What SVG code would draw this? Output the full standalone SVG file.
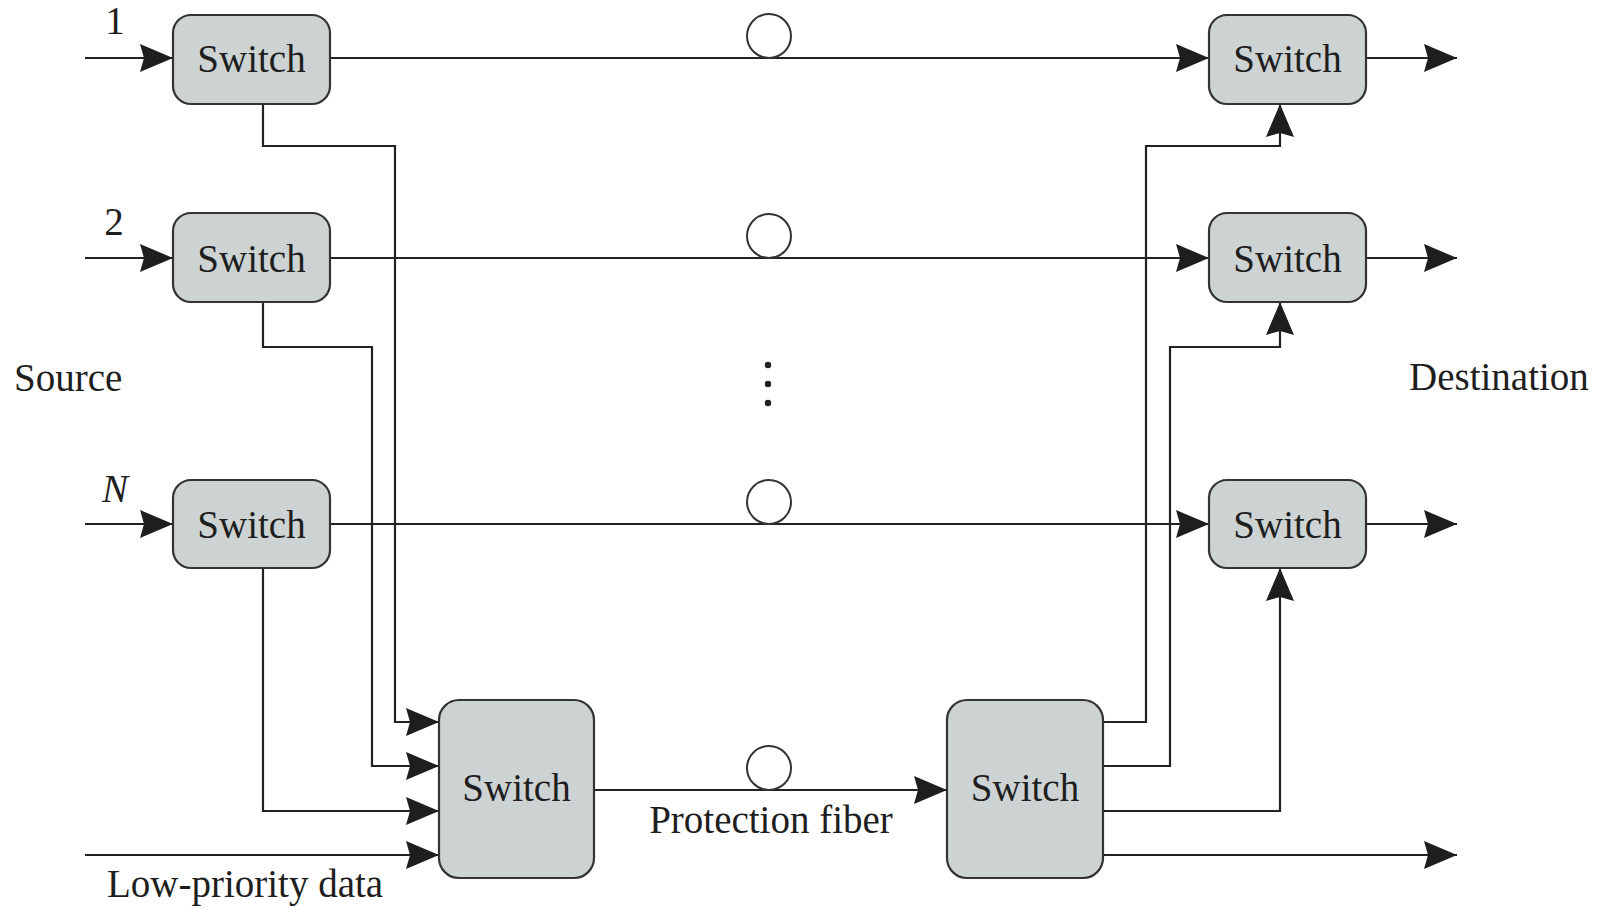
<svg xmlns="http://www.w3.org/2000/svg" width="1599" height="910" viewBox="0 0 1599 910">
<style>
  .box { fill: #cdd3d3; stroke: #333333; stroke-width: 2.2; }
  .t { font-family: "Liberation Serif", "Times New Roman", serif; font-size: 39px; fill: #1e1e1e; }
  .c { text-anchor: middle; }
  .ln { fill: none; stroke: #222222; stroke-width: 2.2; }
  .arr { marker-end: url(#ah); }
  .loop { fill: none; stroke: #333333; stroke-width: 2; }
</style>
<defs>
  <marker id="ah" markerUnits="userSpaceOnUse" markerWidth="40" markerHeight="32" viewBox="-35 -16 37 32" refX="0" refY="0" orient="auto">
    <path d="M0,0 L-33,-14 L-29,0 L-33,14 Z" fill="#1e1e1e"/>
  </marker>
</defs>
<rect width="1599" height="910" fill="#ffffff"/>

<g id="connectors">
  <path class="ln arr" d="M85,58 H173"/>
  <path class="ln arr" d="M85,258 H173"/>
  <path class="ln arr" d="M85,524 H173"/>
  <path class="ln arr" d="M330,58 H1209"/>
  <path class="ln arr" d="M330,258 H1209"/>
  <path class="ln arr" d="M330,524 H1209"/>
  <path class="ln arr" d="M1366,58 H1457"/>
  <path class="ln arr" d="M1366,258 H1457"/>
  <path class="ln arr" d="M1366,524 H1457"/>
  <path class="ln arr" d="M263,104 V146 H395 V722 H439"/>
  <path class="ln arr" d="M263,302 V347 H372 V766 H439"/>
  <path class="ln arr" d="M263,568 V811 H439"/>
  <path class="ln arr" d="M85,855 H439"/>
  <path class="ln arr" d="M594,790 H947"/>
  <path class="ln arr" d="M1103,722 H1146 V146 H1280 V104"/>
  <path class="ln arr" d="M1103,766 H1170 V347 H1280 V302"/>
  <path class="ln arr" d="M1103,811 H1280 V568"/>
  <path class="ln arr" d="M1103,855 H1457"/>
</g>

<g id="fibers">
  <circle class="loop" cx="769" cy="36" r="22"/>
  <circle class="loop" cx="769" cy="236" r="22"/>
  <circle class="loop" cx="769" cy="502" r="22"/>
  <circle class="loop" cx="769" cy="768" r="22"/>
  <circle cx="768" cy="365" r="3.2" fill="#1e1e1e"/>
  <circle cx="768" cy="384" r="3.2" fill="#1e1e1e"/>
  <circle cx="768" cy="403" r="3.2" fill="#1e1e1e"/>
</g>

<g id="src1">
  <rect class="box" x="173" y="15" width="157" height="89" rx="18"/>
  <text class="t c" x="251.5" y="72">Switch</text>
</g>
<g id="src2">
  <rect class="box" x="173" y="213" width="157" height="89" rx="18"/>
  <text class="t c" x="251.5" y="272">Switch</text>
</g>
<g id="srcN">
  <rect class="box" x="173" y="480" width="157" height="88" rx="18"/>
  <text class="t c" x="251.5" y="538">Switch</text>
</g>
<g id="dst1">
  <rect class="box" x="1209" y="15" width="157" height="89" rx="18"/>
  <text class="t c" x="1287.5" y="72">Switch</text>
</g>
<g id="dst2">
  <rect class="box" x="1209" y="213" width="157" height="89" rx="18"/>
  <text class="t c" x="1287.5" y="272">Switch</text>
</g>
<g id="dstN">
  <rect class="box" x="1209" y="480" width="157" height="88" rx="18"/>
  <text class="t c" x="1287.5" y="538">Switch</text>
</g>
<g id="protSrc">
  <rect class="box" x="439" y="700" width="155" height="178" rx="20"/>
  <text class="t c" x="516.5" y="801">Switch</text>
</g>
<g id="protDst">
  <rect class="box" x="947" y="700" width="156" height="178" rx="20"/>
  <text class="t c" x="1025" y="801">Switch</text>
</g>

<g id="labels">
  <text class="t c" x="115" y="34">1</text>
  <text class="t c" x="114" y="235">2</text>
  <text class="t c" x="115" y="502" font-style="italic">N</text>
  <text class="t" x="14" y="391">Source</text>
  <text class="t" x="1409" y="390">Destination</text>
  <text class="t c" x="771" y="833">Protection fiber</text>
  <text class="t" x="107" y="897">Low-priority data</text>
</g>
</svg>
